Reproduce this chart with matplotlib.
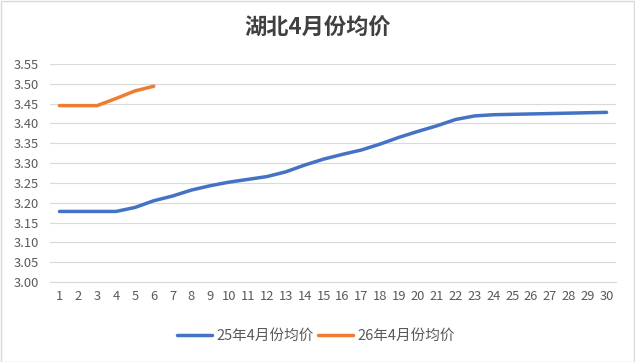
import matplotlib
matplotlib.use("Agg")
import matplotlib.pyplot as plt
from matplotlib.patches import Rectangle

plt.rcParams['font.family'] = ['Noto Sans CJK SC', 'DejaVu Sans']

days = list(range(1, 31))
series_25 = [3.178, 3.178, 3.178, 3.178, 3.188, 3.205, 3.217, 3.232, 3.243, 3.252,
             3.259, 3.266, 3.278, 3.295, 3.310, 3.322, 3.333, 3.348, 3.365, 3.380,
             3.394, 3.410, 3.419, 3.422, 3.423, 3.424, 3.425, 3.426, 3.427, 3.428]
days_26 = [1, 2, 3, 4, 5, 6]
series_26 = [3.445, 3.445, 3.445, 3.463, 3.482, 3.494]
label_25 = "25年4月份均价"
label_26 = "26年4月份均价"
title = "湖北4月份均价"
yticks = [3.00, 3.05, 3.10, 3.15, 3.20, 3.25, 3.30, 3.35, 3.40, 3.45, 3.50, 3.55]

fig = plt.figure(figsize=(6.35, 3.62), dpi=100)
ax = fig.add_axes([50/635, 1-282/362, 566/635, 218/362])

ax.plot(days, series_25, color='#4472C4', lw=2.5, label=label_25, solid_capstyle='round')
ax.plot(days_26, series_26, color='#ED7D31', lw=2.5, label=label_26, solid_capstyle='round')

ax.set_xlim(0.5, 30.5)
ax.set_ylim(3.00, 3.55)
ax.set_yticks(yticks)
ax.set_yticklabels([f"{v:.2f}" for v in yticks])
ax.set_xticks(days)
ax.set_xticklabels([str(d) for d in days])
ax.grid(axis='y', color='#D9D9D9', lw=0.8)
ax.set_axisbelow(True)
for s in ['top', 'right', 'left']:
    ax.spines[s].set_visible(False)
ax.spines['bottom'].set_color('#D9D9D9')
ax.tick_params(axis='both', length=0, labelsize=9.3, colors='#595959', pad=6)
ax.tick_params(axis='y', pad=8)

fig.text(0.5, 1-28/362, title, ha='center', va='center', fontsize=16,
         fontweight='bold', color='#404040')

leg = fig.legend(loc='center', bbox_to_anchor=(316/635, 1-336/362), ncol=2, frameon=False,
                 fontsize=10.5, handlelength=2.4, columnspacing=0.3, handletextpad=0.3)
for t in leg.get_texts():
    t.set_color('#595959')

fig.patches.append(Rectangle((0.5/635, 0.5/362), 1-1.5/635, 1-1.5/362, transform=fig.transFigure,
                             fill=False, edgecolor='#D9D9D9', lw=1))

fig.savefig('out.png', dpi=100, facecolor='white')
